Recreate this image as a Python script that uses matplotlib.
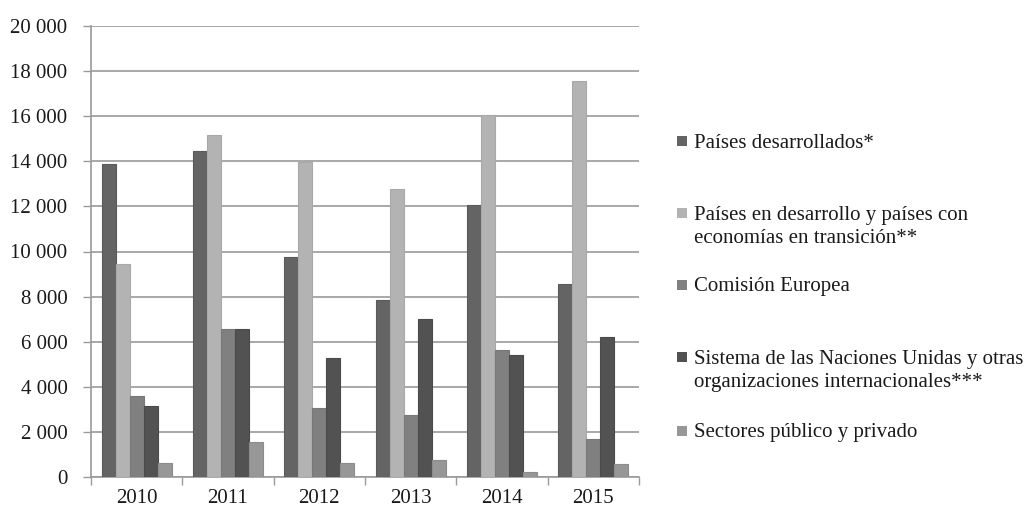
import matplotlib
matplotlib.use("Agg")
import matplotlib.pyplot as plt
from matplotlib.patches import Rectangle
from matplotlib.ticker import FuncFormatter, MultipleLocator
import numpy as np

years = ["2010", "2011", "2012", "2013", "2014", "2015"]
series_labels = [
    "Países desarrollados*",
    "Países en desarrollo y países con\neconomías en transición**",
    "Comisión Europea",
    "Sistema de las Naciones Unidas y otras\norganizaciones internacionales***",
    "Sectores público y privado",
]
desarrollados = [13900, 14450, 9750, 7850, 12050, 8570]
en_desarrollo = [9450, 15150, 13970, 12780, 16050, 17580]
comision = [3600, 6570, 3080, 2750, 5620, 1700]
naciones_unidas = [3130, 6570, 5270, 7020, 5420, 6220]
sectores = [600, 1570, 640, 760, 220, 560]
values = [desarrollados, en_desarrollo, comision, naciones_unidas, sectores]
colors = ["#646464", "#b3b3b3", "#808080", "#525252", "#979797"]
edges = ["#5a5a5a", "#a8a8a8", "#787878", "#4a4a4a", "#8c8c8c"]

plt.rcParams['font.family'] = ['Liberation Serif', 'DejaVu Serif']
W, H = 1030, 509
fig = plt.figure(figsize=(W / 100, H / 100), dpi=100)
ax = fig.add_axes([91 / W, 1 - 477 / H, (639 - 91) / W, (477 - 26) / H])

x = np.arange(len(years))
bw = 0.153
for i, (vals, c, e) in enumerate(zip(values, colors, edges)):
    ax.bar(x + (i - 2) * bw, vals, width=bw, color=c, edgecolor=e, linewidth=0.8, zorder=3)

ax.set_xlim(-0.5, len(years) - 0.5)
ax.set_ylim(0, 20000)
ax.yaxis.set_major_locator(MultipleLocator(2000))
ax.yaxis.set_major_formatter(FuncFormatter(lambda v, p: f"{int(v):,}".replace(",", " ")))
ax.grid(axis='y', color='#9a9a9a', linewidth=1.2, zorder=0)
ax.set_axisbelow(True)

ax.set_xticks(x)
ax.set_xticklabels(years)
ax.set_xticks(np.arange(len(years) + 1) - 0.5, minor=True)
ax.tick_params(axis='x', which='major', length=0, pad=8.5, labelsize=15, labelcolor='#1a1a1a')
ax.tick_params(axis='x', which='minor', length=6, color='#9a9a9a', width=1)
ax.tick_params(axis='y', length=6, color='#9a9a9a', width=1, labelsize=15, pad=11,
               labelcolor='#1a1a1a')
for s in ['top', 'right']:
    ax.spines[s].set_visible(False)
for s in ['left', 'bottom']:
    ax.spines[s].set_color('#9a9a9a')
    ax.spines[s].set_linewidth(1.2)

# legend
centers = [141, 213, 285, 357, 431]
line_gap = 24
for lab, c, yc in zip(series_labels, colors, centers):
    fig.add_artist(Rectangle((677 / W, 1 - (yc + 5) / H), 10 / W, 10 / H,
                             transform=fig.transFigure, facecolor=c, edgecolor='none'))
    nlines = lab.count("\n") + 1
    ymid = yc + (nlines - 1) * line_gap / 2 + 2
    fig.text(694 / W, 1 - ymid / H, lab, fontsize=15, va='center', ha='left',
             linespacing=1.25, color='#1a1a1a')

fig.savefig("out.png", dpi=100)
